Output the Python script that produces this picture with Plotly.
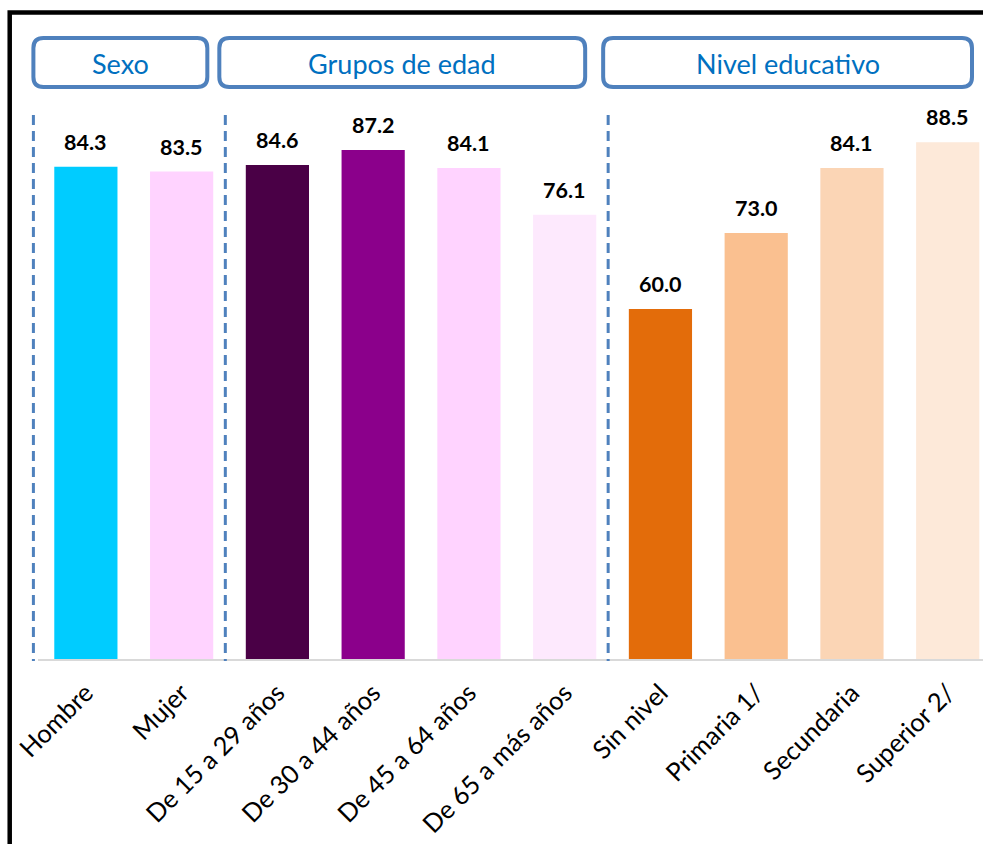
import plotly.graph_objects as go

categories = ["Hombre", "Mujer", "De 15 a 29 años", "De 30 a 44 años", "De 45 a 64 años",
              "De 65 a más años", "Sin nivel", "Primaria 1/", "Secundaria", "Superior 2/"]
values = [84.3, 83.5, 84.6, 87.2, 84.1, 76.1, 60.0, 73.0, 84.1, 88.5]
bar_colors = ["#00CCFF", "#FFD3FF", "#4A0046", "#8B008B", "#FFD3FF", "#FDE9FD",
              "#E36C0A", "#FAC090", "#FBD5B5", "#FDE9D9"]
group_titles = ["Sexo", "Grupos de edad", "Nivel educativo"]

W_FIG, H_FIG = 983, 844
L, B_PX, T_PX = 37.6, 660, 100
PW = W_FIG - L
PH = B_PX - T_PX
YMAX = PH / 5.85


def px2x(px):
    return (px - L) / PW


def py2y(py):
    return (B_PX - py) / PH


def rounded_path(x0, y0, x1, y1, r):
    def P(px, py):
        return f"{px2x(px):.5f},{py2y(py):.5f}"
    return (f"M {P(x0 + r, y0)} L {P(x1 - r, y0)} Q {P(x1, y0)} {P(x1, y0 + r)} "
            f"L {P(x1, y1 - r)} Q {P(x1, y1)} {P(x1 - r, y1)} L {P(x0 + r, y1)} "
            f"Q {P(x0, y1)} {P(x0, y1 - r)} L {P(x0, y0 + r)} Q {P(x0, y0)} {P(x0 + r, y0)} Z")


fig = go.Figure()
fig.add_trace(go.Bar(
    x=list(range(len(categories))), y=values,
    marker=dict(color=bar_colors, line=dict(width=0)),
    width=0.66, hoverinfo="skip",
))

for i, v in enumerate(values):
    fig.add_annotation(x=i, y=v, text=f"<b>{v:.1f}</b>", showarrow=False,
                       yshift=25, font=dict(family="Lato", size=21.5, color="black"))

shapes = []
shapes.append(dict(type="rect", xref="paper", yref="paper",
                   x0=px2x(9.3), x1=px2x(1030), y0=py2y(12.5), y1=py2y(920),
                   line=dict(color="black", width=4.5), layer="above"))
shapes.append(dict(type="line", xref="paper", yref="paper",
                   x0=0, x1=1.05, y0=0, y1=0,
                   line=dict(color="#D9D9D9", width=2)))
for xp in [33, 225, 608]:
    shapes.append(dict(type="line", xref="paper", yref="paper",
                       x0=px2x(xp), x1=px2x(xp), y0=py2y(115), y1=py2y(661),
                       line=dict(color="#4F81BD", width=3, dash="10px,6px")))
boxes = [(33, 207), (219, 585), (603, 972)]
for (bx0, bx1), title in zip(boxes, group_titles):
    shapes.append(dict(type="path", xref="paper", yref="paper",
                       path=rounded_path(bx0, 38, bx1, 87, 10),
                       line=dict(color="#4F81BD", width=4), fillcolor="rgba(0,0,0,0)"))
    fig.add_annotation(xref="paper", yref="paper", x=px2x((bx0 + bx1) / 2), y=py2y(63),
                       xanchor="center", yanchor="middle",
                       text=title, showarrow=False,
                       font=dict(family="Lato", size=27, color="#0070C0"))

fig.update_layout(
    width=W_FIG, height=H_FIG,
    margin=dict(l=L, r=0, t=T_PX, b=H_FIG - B_PX),
    paper_bgcolor="white", plot_bgcolor="white",
    showlegend=False, shapes=shapes,
    xaxis=dict(range=[-0.5, -0.5 + PW / 95.8], tickmode="array",
               tickvals=list(range(len(categories))), ticktext=categories,
               tickangle=-45, tickfont=dict(family="Lato", size=25.5, color="black"),
               ticklabelstandoff=12,
               showgrid=False, zeroline=False, showline=False, ticks=""),
    yaxis=dict(range=[0, YMAX], visible=False, showgrid=False, zeroline=False),
)

fig.write_html(
    "out.html",
    config={"displayModeBar": False},
    post_script="document.body.style.margin='0';document.documentElement.style.overflow='hidden';",
)
